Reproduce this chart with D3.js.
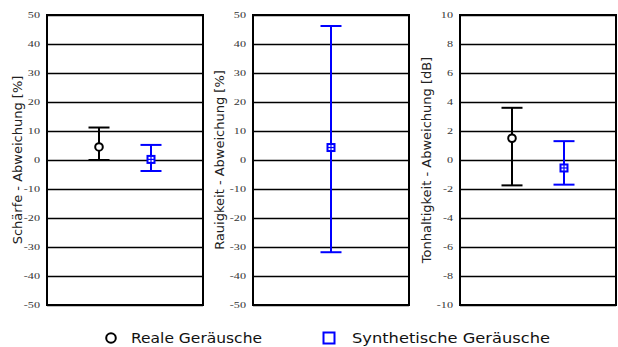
<!DOCTYPE html>
<html>
<head>
<meta charset="utf-8">
<script src="https://cdn.jsdelivr.net/npm/d3@7"></script>
<style>
  body { margin: 0; background: #fff; }
  svg { display: block; }
</style>
</head>
<body>
<div class="chart"></div>
<script>
// data
const panelTitles = ['Schärfe - Abweichung [%]', 'Rauigkeit - Abweichung [%]', 'Tonhaltigkeit - Abweichung [dB]'];
const yDomains = [[-50, 50], [-50, 50], [-10, 10]];
const yTicks = [
  [-50, -40, -30, -20, -10, 0, 10, 20, 30, 40, 50],
  [-50, -40, -30, -20, -10, 0, 10, 20, 30, 40, 50],
  [-10, -8, -6, -4, -2, 0, 2, 4, 6, 8, 10]
];
const seriesNames = ['Reale Geräusche', 'Synthetische Geräusche'];
const realMean = [4.5, null, 1.5];
const realLow = [0, null, -1.75];
const realHigh = [11.2, null, 3.6];
const synthMean = [0.2, 4.3, -0.55];
const synthLow = [-3.8, -31.8, -1.7];
const synthHigh = [5.2, 46.2, 1.3];

const W = 618, H = 347;
const panelLeft = [47, 253, 460];
const panelWidth = 156;
const plotTop = 15, plotBottom = 305;
const colors = ['#000000', '#0000ff'];

const svg = d3.select('.chart').append('svg')
  .attr('width', W)
  .attr('height', H);

panelTitles.forEach((title, i) => {
  const x0 = panelLeft[i];
  const g = svg.append('g').attr('transform', `translate(${x0},0)`);

  const y = d3.scaleLinear().domain(yDomains[i]).range([plotBottom, plotTop]);

  // which series exist in this panel
  const present = [];
  if (realMean[i] !== null) present.push(0);
  if (synthMean[i] !== null) present.push(1);
  const x = d3.scalePoint().domain(present).range([0, panelWidth]).padding(1);

  // grid lines
  g.append('g')
    .call(d3.axisLeft(y).tickValues(yTicks[i]).tickSize(-panelWidth).tickFormat(''))
    .call(s => s.select('.domain').remove())
    .selectAll('line')
    .attr('stroke', '#000')
    .attr('stroke-width', 1.3);

  // tick labels (serif, stretched a bit sideways like the original)
  const sx = 1.35;
  g.append('g')
    .call(d3.axisLeft(y).tickValues(yTicks[i]).tickSize(0).tickPadding(0).tickFormat(d => String(d)))
    .call(s => s.select('.domain').remove())
    .selectAll('text')
    .attr('x', -7 / sx)
    .attr('transform', `scale(${sx},1)`)
    .style('font-family', '"Liberation Serif", "Times New Roman", serif')
    .style('font-size', '9px')
    .style('fill', '#333');

  // frame
  g.append('rect')
    .attr('x', 0).attr('y', plotTop)
    .attr('width', panelWidth).attr('height', plotBottom - plotTop)
    .attr('fill', 'none')
    .attr('stroke', '#000')
    .attr('stroke-width', 2);

  // axis title
  const tx = [17, 219, 426][i];
  svg.append('text')
    .attr('transform', `translate(${tx},${(plotTop + plotBottom) / 2}) rotate(-90)`)
    .attr('text-anchor', 'middle')
    .attr('dominant-baseline', 'central')
    .style('font-family', '"DejaVu Sans", Verdana, sans-serif')
    .style('font-size', '13px')
    .style('fill', '#222')
    .text(title);

  // error bars and markers
  const cap = 10.5;
  present.forEach(k => {
    const mean = k === 0 ? realMean[i] : synthMean[i];
    const lo = k === 0 ? realLow[i] : synthLow[i];
    const hi = k === 0 ? realHigh[i] : synthHigh[i];
    const cx = x(k);
    const eg = g.append('g')
      .attr('stroke', colors[k])
      .attr('stroke-width', 2)
      .attr('fill', 'none');
    eg.append('line').attr('x1', cx).attr('x2', cx).attr('y1', y(lo)).attr('y2', y(hi));
    eg.append('line').attr('x1', cx - cap).attr('x2', cx + cap).attr('y1', y(lo)).attr('y2', y(lo));
    eg.append('line').attr('x1', cx - cap).attr('x2', cx + cap).attr('y1', y(hi)).attr('y2', y(hi));
    if (k === 0) {
      eg.append('circle').attr('cx', cx).attr('cy', y(mean)).attr('r', 3.8).attr('fill', '#fff');
    } else {
      eg.append('rect').attr('x', cx - 3.5).attr('y', y(mean) - 3.5).attr('width', 7).attr('height', 7).attr('fill', '#fff');
      eg.append('line').attr('x1', cx).attr('x2', cx).attr('y1', y(mean) - 3.5).attr('y2', y(mean) + 3.5).attr('stroke-width', 1.2);
      eg.append('line').attr('x1', cx - 3.5).attr('x2', cx + 3.5).attr('y1', y(mean)).attr('y2', y(mean)).attr('stroke-width', 1.2);
    }
  });
});

// legend
const legendY = 338;
const legendMarkX = [111, 329];
const legendTextX = [131, 352];
const legendTextW = [131, 198];
seriesNames.forEach((name, k) => {
  if (k === 0) {
    svg.append('circle')
      .attr('cx', legendMarkX[k]).attr('cy', legendY).attr('r', 4.8)
      .attr('fill', 'none').attr('stroke', colors[k]).attr('stroke-width', 2);
  } else {
    svg.append('rect')
      .attr('x', legendMarkX[k] - 5.5).attr('y', legendY - 5.5)
      .attr('width', 11).attr('height', 11)
      .attr('fill', 'none').attr('stroke', colors[k]).attr('stroke-width', 2);
  }
  svg.append('text')
    .attr('x', legendTextX[k])
    .attr('y', legendY + 5)
    .style('font-family', '"DejaVu Sans", Verdana, sans-serif')
    .style('font-size', '14px')
    .attr('textLength', legendTextW[k])
    .attr('lengthAdjust', 'spacingAndGlyphs')
    .style('fill', '#111')
    .text(name);
});
</script>
</body>
</html>
